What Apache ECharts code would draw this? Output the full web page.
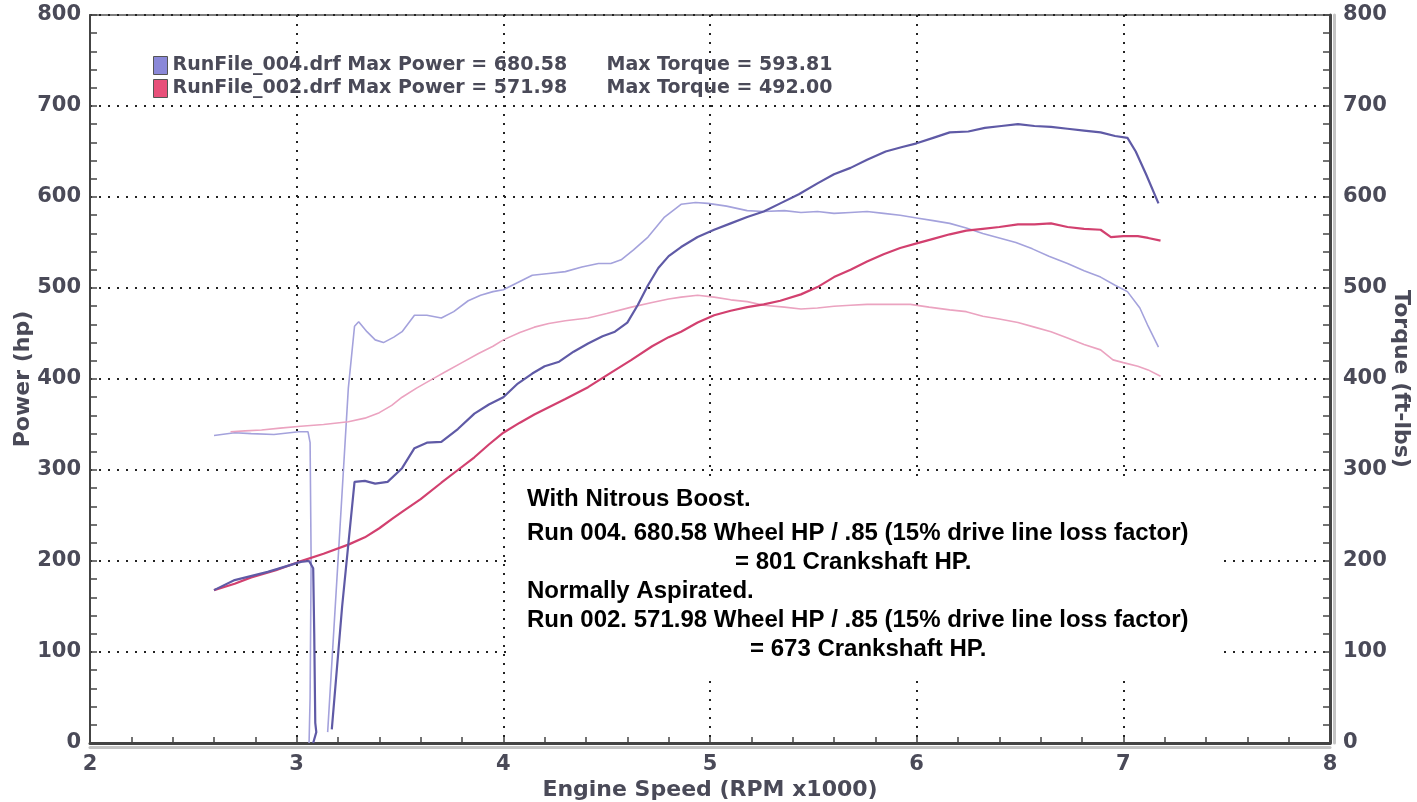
<!DOCTYPE html>
<html>
<head>
<meta charset="utf-8">
<script src="https://cdn.jsdelivr.net/npm/echarts@6/dist/echarts.min.js"></script>
<style>
  html, body { margin: 0; padding: 0; background: #fff; }
  #chart { width: 1417px; height: 802px; }
</style>
</head>
<body>
<div id="chart"></div>
<script>
// rpm x1000 / value pairs
// run 004 (nitrous) power, hp
const run004Power = [
  [2.60,168],[2.70,179],[2.86,188],[3.02,199],[3.06,200],[3.08,192],[3.085,120],[3.09,22],[3.095,12],[3.08,0],
  [3.12,null],
  [3.17,15],[3.22,150],[3.28,287],[3.33,288],[3.38,285],[3.44,287],[3.51,302],[3.57,324],[3.63,330],[3.70,331],
  [3.78,345],[3.86,362],[3.93,372],[4.00,380],[4.07,395],[4.14,406],[4.20,414],[4.27,419],[4.34,430],[4.41,439],
  [4.48,447],[4.54,452],[4.60,462],[4.65,481],[4.70,503],[4.75,522],[4.80,535],[4.86,545],[4.94,556],[5.02,564],
  [5.10,571],[5.18,578],[5.26,584],[5.34,593],[5.43,603],[5.52,615],[5.60,625],[5.68,632],[5.76,641],[5.85,650],
  [5.93,655],[6.00,659],[6.08,665],[6.16,671],[6.25,672],[6.33,676],[6.41,678],[6.49,680],[6.57,678],[6.65,677],
  [6.73,675],[6.81,673],[6.89,671],[6.96,667],[7.02,665],[7.06,650],[7.11,625],[7.17,593]
];
// run 004 torque, ft-lbs
const run004Torque = [
  [2.60,338],[2.70,341],[2.78,340],[2.89,339],[3.01,342],[3.055,342],[3.065,330],[3.07,200],[3.065,50],[3.06,0],
  [3.10,null],
  [3.15,12],[3.20,200],[3.25,390],[3.28,458],[3.30,463],[3.34,452],[3.38,443],[3.42,440],[3.47,446],[3.51,452],
  [3.57,470],[3.63,470],[3.70,467],[3.76,474],[3.83,486],[3.89,492],[3.95,496],[4.00,498],[4.07,506],[4.14,514],
  [4.22,516],[4.30,518],[4.38,523],[4.46,527],[4.52,527],[4.57,531],[4.63,542],[4.70,556],[4.78,578],[4.86,592],
  [4.93,594],[4.99,593],[5.08,590],[5.18,585],[5.26,584],[5.36,585],[5.44,583],[5.52,584],[5.60,582],[5.68,583],
  [5.76,584],[5.84,582],[5.92,580],[6.00,577],[6.08,574],[6.16,571],[6.24,566],[6.32,560],[6.40,555],[6.48,550],
  [6.56,543],[6.64,535],[6.73,527],[6.81,519],[6.89,512],[6.96,503],[7.02,496],[7.08,478],[7.12,458],[7.17,435]
];
// run 002 (normally aspirated) power, hp
const run002Power = [
  [2.60,168],[2.70,175],[2.78,182],[2.90,190],[3.01,199],[3.13,208],[3.25,218],[3.33,226],[3.40,236],[3.46,246],
  [3.51,254],[3.60,268],[3.70,286],[3.78,300],[3.86,314],[3.93,328],[4.00,341],[4.08,352],[4.15,361],[4.22,369],
  [4.30,378],[4.41,391],[4.50,404],[4.62,421],[4.72,436],[4.80,446],[4.86,452],[4.94,462],[5.02,470],[5.10,475],
  [5.18,479],[5.26,482],[5.34,486],[5.44,493],[5.52,501],[5.60,512],[5.68,520],[5.76,529],[5.84,537],[5.92,544],
  [6.00,549],[6.08,554],[6.16,559],[6.24,563],[6.32,565],[6.40,567],[6.49,570],[6.57,570],[6.65,571],[6.73,567],
  [6.81,565],[6.89,564],[6.94,556],[7.00,557],[7.07,557],[7.12,555],[7.18,552]
];
// run 002 torque, ft-lbs
const run002Torque = [
  [2.68,342],[2.75,343],[2.83,344],[2.92,346],[3.02,348],[3.13,350],[3.25,353],[3.33,357],[3.40,363],[3.46,371],
  [3.51,380],[3.58,390],[3.65,399],[3.72,408],[3.80,418],[3.88,428],[3.95,436],[4.00,443],[4.08,451],[4.15,457],
  [4.22,461],[4.30,464],[4.41,467],[4.50,472],[4.62,479],[4.72,484],[4.80,488],[4.86,490],[4.94,492],[5.02,490],
  [5.10,487],[5.18,485],[5.26,481],[5.36,479],[5.44,477],[5.52,478],[5.60,480],[5.68,481],[5.76,482],[5.86,482],
  [5.97,482],[6.06,479],[6.16,476],[6.24,474],[6.32,469],[6.40,466],[6.49,462],[6.57,457],[6.65,452],[6.73,445],
  [6.81,438],[6.89,432],[6.95,421],[7.00,418],[7.07,414],[7.12,410],[7.18,403]
];

const runNames = ["RunFile_004.drf", "RunFile_002.drf"];
const maxPower = ["680.58", "571.98"];
const maxTorque = ["593.81", "492.00"];
const noteLines = [
  "With Nitrous Boost.",
  "Run 004. 680.58 Wheel HP / .85 (15% drive line loss factor)",
  "= 801 Crankshaft HP.",
  "Normally Aspirated.",
  "Run 002. 571.98 Wheel HP / .85 (15% drive line loss factor)",
  "= 673 Crankshaft HP."
];

const axisColor = "#4a4a58";
const labelFont = { color: axisColor, fontFamily: "DejaVu Sans", fontWeight: "bold", fontSize: 21 };
const nameFont = { color: axisColor, fontFamily: "DejaVu Sans", fontWeight: "bold", fontSize: 22 };
const dotted = { color: "#222", width: 2, type: [2, 7] };
const noteFont = "bold 24px 'Liberation Sans'";

function note(text, x, y) {
  return {
    type: "text", z: 100, x: x, y: y,
    style: { text: text, fill: "#000", font: noteFont, verticalAlign: "middle" }
  };
}

let mychart = echarts.init(document.getElementById("chart"));
mychart.setOption({
  backgroundColor: "#fff",
  animation: false,
  grid: {
    left: 90, right: 87, top: 15, bottom: 59,
    outerBoundsMode: "none",
    containLabel: false,
    show: true, borderColor: "#555", borderWidth: 1.5
  },
  legend: {
    left: 148, top: 51,
    orient: "vertical",
    itemGap: 4,
    itemWidth: 14, itemHeight: 18,
    icon: "rect",
    data: [
      { name: runNames[0], itemStyle: { color: "#8a88d8", borderColor: "#555", borderWidth: 1 } },
      { name: runNames[1], itemStyle: { color: "#e8507a", borderColor: "#555", borderWidth: 1 } }
    ],
    formatter: function (name) {
      let i = runNames.indexOf(name);
      return "{a|" + name + " Max Power = " + maxPower[i] + "}{b|Max Torque = " + maxTorque[i] + "}";
    },
    textStyle: {
      rich: {
        a: { width: 434, color: axisColor, fontFamily: "DejaVu Sans", fontWeight: "bold", fontSize: 19 },
        b: { color: axisColor, fontFamily: "DejaVu Sans", fontWeight: "bold", fontSize: 19 }
      }
    }
  },
  xAxis: {
    type: "value",
    min: 2, max: 8, interval: 1,
    name: "Engine Speed (RPM x1000)",
    nameLocation: "middle",
    nameGap: 36,
    nameMoveOverlap: false,
    nameTextStyle: nameFont,
    axisLine: { lineStyle: { color: "#444", width: 3, shadowColor: "#c4c4c4", shadowOffsetY: 4 } },
    axisTick: { inside: true, length: 6, lineStyle: { color: "#444", width: 1.5 } },
    minorTick: { show: true, splitNumber: 5, length: 6, lineStyle: { color: "#444", width: 1.5 } },
    axisLabel: Object.assign({ margin: 11 }, labelFont),
    splitLine: { show: true, lineStyle: dotted }
  },
  yAxis: [
    {
      type: "value",
      min: 0, max: 800, interval: 100,
      name: "Power (hp)",
      nameLocation: "middle",
      nameGap: 56,
      nameRotate: 90,
      nameMoveOverlap: false,
      nameTextStyle: nameFont,
      axisLine: { show: true, lineStyle: { color: "#444", width: 2 } },
      axisTick: { show: true, inside: true, length: 7, lineStyle: { color: "#444", width: 1.5 } },
      minorTick: { show: true, splitNumber: 5, length: 7, lineStyle: { color: "#444", width: 1.5 } },
      axisLabel: Object.assign({ margin: 9 }, labelFont),
      splitLine: { show: true, lineStyle: dotted }
    },
    {
      type: "value",
      min: 0, max: 800, interval: 100,
      position: "right",
      name: "Torque (ft-lbs)",
      nameLocation: "middle",
      nameGap: 60,
      nameRotate: -90,
      nameMoveOverlap: false,
      nameTextStyle: nameFont,
      axisLine: { show: true, lineStyle: { color: "#444", width: 3, shadowColor: "#c4c4c4", shadowOffsetX: 4 } },
      axisTick: { show: true, inside: true, length: 7, lineStyle: { color: "#444", width: 1.5 } },
      minorTick: { show: true, splitNumber: 5, length: 7, lineStyle: { color: "#444", width: 1.5 } },
      axisLabel: Object.assign({ margin: 13 }, labelFont),
      splitLine: { show: false }
    }
  ],
  graphic: [
    // white note box hides the grid behind the text
    { type: "rect", z: 1, shape: { x: 512, y: 480, width: 706, height: 200 }, style: { fill: "#fff" } },
    note(noteLines[0], 527, 499),
    note(noteLines[1], 527, 533),
    note(noteLines[2], 735, 562),
    note(noteLines[3], 527, 591),
    note(noteLines[4], 527, 620),
    note(noteLines[5], 750, 649)
  ],
  series: [
    {
      name: "Torque 004",
      type: "line",
      yAxisIndex: 1,
      showSymbol: false,
      color: "#a4a2dc",
      lineStyle: { width: 1.6 },
      data: run004Torque
    },
    {
      name: "Torque 002",
      type: "line",
      yAxisIndex: 1,
      showSymbol: false,
      color: "#eba3c0",
      lineStyle: { width: 1.6 },
      data: run002Torque
    },
    {
      name: runNames[1],
      type: "line",
      showSymbol: false,
      color: "#d2406f",
      lineStyle: { width: 2.2 },
      data: run002Power
    },
    {
      name: runNames[0],
      type: "line",
      showSymbol: false,
      color: "#5f5aa6",
      lineStyle: { width: 2.2 },
      data: run004Power
    }
  ]
});
window.addEventListener("resize", () => {
  mychart.resize();
});
</script>
</body>
</html>
